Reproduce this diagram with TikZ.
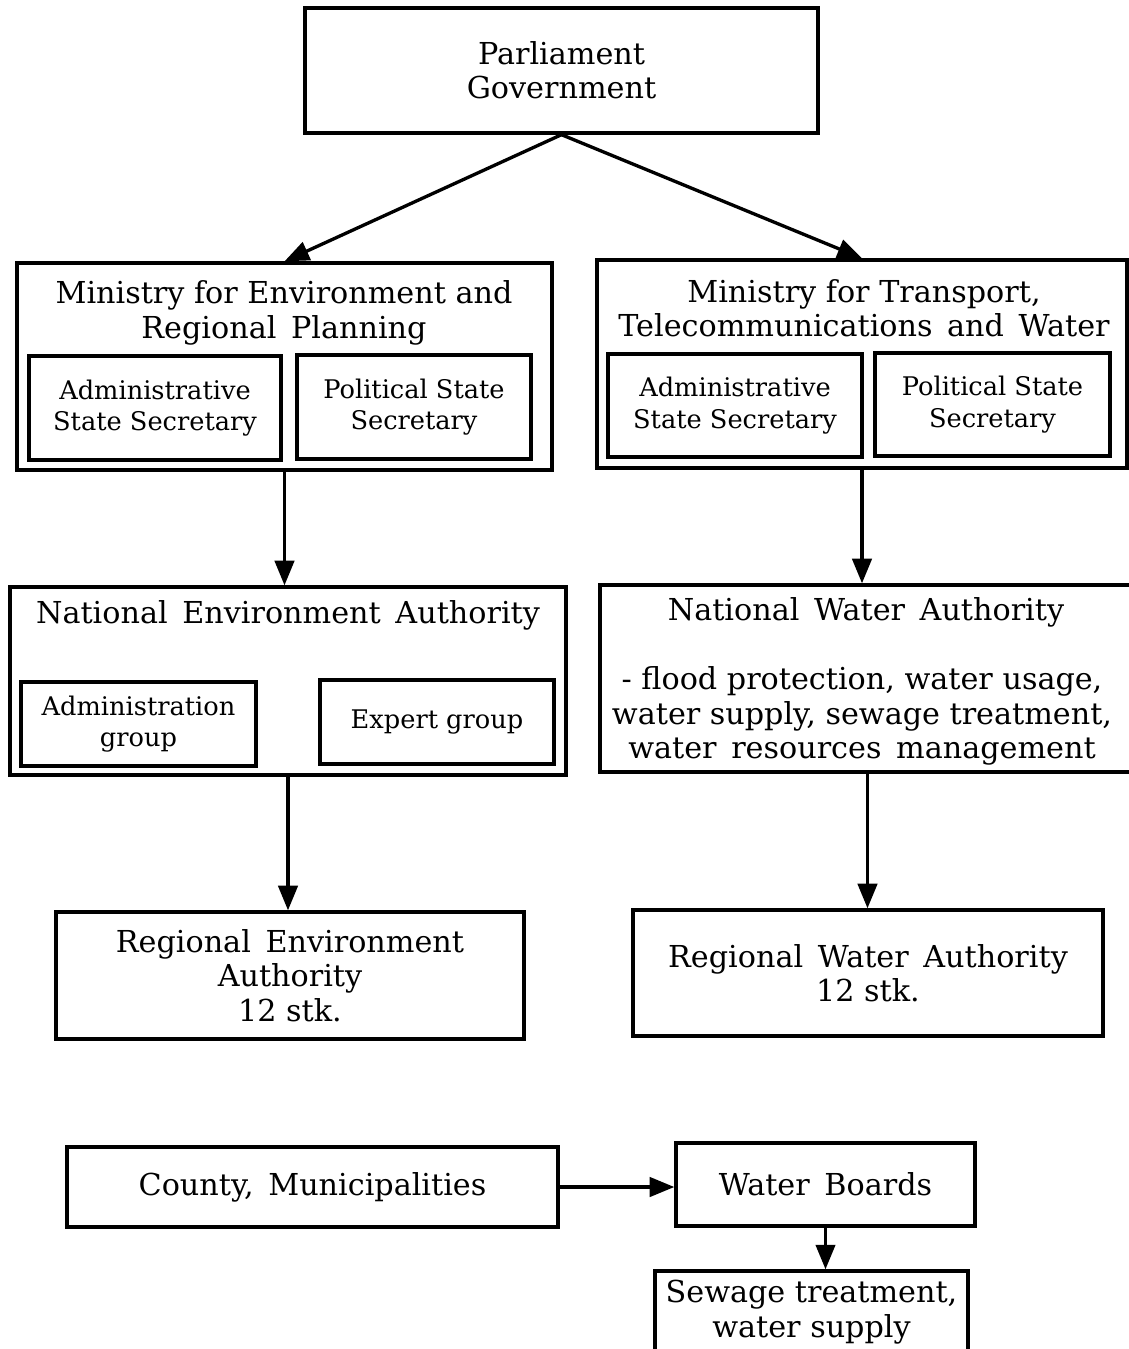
\documentclass[tikz,border=0pt]{standalone}
\usepackage{fontspec}
\setmainfont{DejaVu Serif}
\usepackage{tikz}
\usetikzlibrary{arrows.meta, positioning, calc}

\newcommand{\boxfont}{\fontsize{17.2}{19.5}\selectfont}
\newcommand{\subfont}{\fontsize{14.6}{18}\selectfont}

\begin{document}
\begin{tikzpicture}[x=0.02cm, y=-0.02cm,
  sz/.style 2 args={minimum width=#1*0.02cm, minimum height=#2*0.02cm},
  box/.style={draw, rectangle, line width=1.9pt, inner sep=0pt, align=center, font=\boxfont},
  subbox/.style={draw, rectangle, line width=1.9pt, inner sep=0pt, align=center, font=\subfont},
  label/.style={align=center, font=\boxfont, inner sep=0pt},
  arr/.style={line width=1.9pt, -{Triangle[length=14pt, width=11pt]}}]
\clip (0,0) rectangle (1129,1349);
\useasboundingbox (0,0) rectangle (1129,1349);

% Parliament
\node[box, sz={513}{125}] (parl) at (561.5,70.5) {Parliament\\Government};

% Ministry for Environment
\node[box, sz={535}{207}] (minenv) at (284.5,366.5) {};
\node[label] (minenvtitle) at (284,313) {Ministry for Environment and\\Regional\, Planning};
\node[subbox, sz={252}{104}] (minenvadm) at (155,408) {Administrative\\State Secretary};
\node[subbox, sz={234}{104}] (minenvpol) at (414,407) {Political State\\Secretary};

% Ministry for Transport
\node[box, sz={530}{208}] (mintra) at (862,364) {};
\node[label] (mintratitle) at (864,308.5) {Ministry for Transport,\\Telecommunications\, and\, Water};
\node[subbox, sz={254}{103}] (mintraadm) at (735,405.5) {Administrative\\State Secretary};
\node[subbox, sz={235}{103}] (mintrapol) at (992.5,404.5) {Political State\\Secretary};

% National authorities
\node[box, sz={556}{188}] (nea) at (288,681) {};
\node[label] (neatitle) at (288,615) {National\, Environment\, Authority};
\node[subbox, sz={235}{84}] (neaadm) at (138.5,724) {Administration\\group};
\node[subbox, sz={234}{84}] (neaexp) at (437,722) {Expert group};

\node[box, sz={535}{187}] (nwa) at (867.5,678.5) {};
\node[label] (nwatitle) at (866,612) {National\, Water\, Authority};
\node[label] (nwatext) at (862,716) {- flood protection, water usage,\\water supply, sewage treatment,\\water\, resources\, management};

% Regional authorities
\node[box, sz={468}{127}] (regenv) at (290,975.5) {Regional\, Environment\\Authority\\12 stk.};
\node[box, sz={470}{126}] (regwat) at (868,973) {Regional\, Water\, Authority\\12 stk.};

% Local level
\node[box, sz={491}{80}] (county) at (312.5,1187) {County,\, Municipalities};
\node[box, sz={299}{83}] (wboards) at (825.5,1184.5) {Water\, Boards};
\node[box, sz={313}{82}] (sewage) at (811.5,1312) {Sewage treatment,\\water supply};

% Arrows
\draw[arr] (parl.south) -- (minenv.north);
\draw[arr] (parl.south) -- (mintra.north);
\draw[arr] (minenv.south) -- (minenv.south |- nea.north);
\draw[arr] (mintra.south) -- (mintra.south |- nwa.north);
\draw[arr] (nea.south) -- (nea.south |- regenv.north);
\draw[arr] (nwa.south) -- (nwa.south |- regwat.north);
\draw[arr] (county.east) -- (county.east -| wboards.west);
\draw[arr] (wboards.south) -- (wboards.south |- sewage.north);
\end{tikzpicture}
\end{document}
